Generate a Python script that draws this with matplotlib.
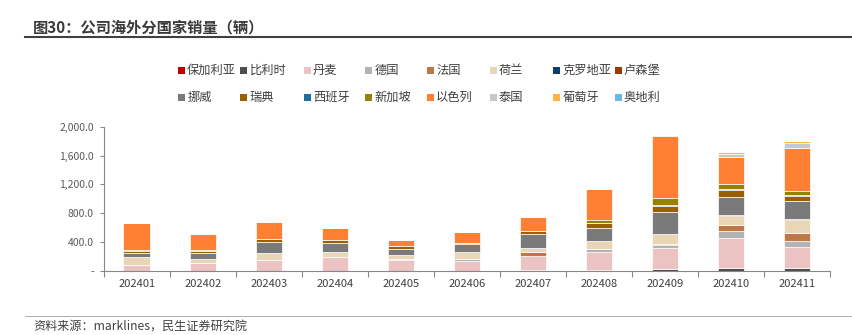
import numpy as np
import matplotlib
matplotlib.use("Agg")
import matplotlib.pyplot as plt
from matplotlib.patches import Rectangle
from matplotlib.lines import Line2D
from matplotlib.ticker import FuncFormatter

plt.rcParams['font.family'] = ['Noto Sans CJK SC', 'DejaVu Sans']

months = ["202401", "202402", "202403", "202404", "202405", "202406",
          "202407", "202408", "202409", "202410", "202411"]

countries = ["保加利亚", "比利时", "丹麦", "德国", "法国", "荷兰", "克罗地亚", "卢森堡",
             "挪威", "瑞典", "西班牙", "新加坡", "以色列", "泰国", "葡萄牙", "奥地利"]

bulgaria    = [0, 0, 0, 0, 0, 0, 0, 0, 0, 0, 0]
belgium     = [0, 0, 0, 0, 0, 0, 15, 18, 23, 42, 42]
denmark     = [80, 115, 152, 199, 152, 134, 194, 249, 296, 411, 296]
germany     = [0, 0, 0, 0, 8, 32, 0, 37, 37, 101, 83]
france      = [0, 0, 0, 0, 0, 0, 51, 0, 18, 79, 111]
netherlands = [111, 51, 92, 69, 65, 101, 65, 115, 134, 129, 176]
croatia     = [0, 0, 0, 0, 0, 0, 0, 0, 0, 0, 0]
luxembourg  = [0, 0, 0, 0, 0, 0, 0, 0, 0, 8, 6]
norway      = [65, 79, 162, 115, 83, 101, 190, 176, 314, 254, 263]
sweden      = [28, 37, 42, 51, 37, 23, 37, 74, 83, 92, 65]
spain       = [0, 0, 0, 0, 0, 0, 0, 0, 10, 18, 18]
singapore   = [5, 5, 0, 0, 0, 0, 0, 37, 92, 69, 42]
israel      = [370, 231, 236, 162, 79, 148, 203, 425, 860, 379, 605]
thailand    = [0, 0, 0, 0, 0, 0, 0, 0, 14, 46, 69]
portugal    = [0, 0, 0, 0, 0, 0, 0, 0, 10, 28, 23]
austria     = [0, 0, 0, 0, 0, 0, 0, 0, 0, 0, 0]

series = [bulgaria, belgium, denmark, germany, france, netherlands, croatia, luxembourg,
          norway, sweden, spain, singapore, israel, thailand, portugal, austria]

colors = ["#C00000", "#4D4D4D", "#EBC3C3", "#B3B3B3", "#BF7845", "#E8D6B4", "#0B3D6E", "#9C3800",
          "#7A7A7A", "#9C5F00", "#1F6E9C", "#968200", "#FF7F33", "#C8C8C8", "#FFB43C", "#6BB8E6"]

W, H = 853, 335
fig = plt.figure(figsize=(W / 100, H / 100), dpi=100)

# axes placement (pixel-based)
x0, x1 = 103.7, 829.7
y_top, y_bot = 126.7, 271.0
ax = fig.add_axes([x0 / W, 1 - y_bot / H, (x1 - x0) / W, (y_bot - y_top) / H])

x = np.arange(len(months))
bottom = np.zeros(len(months))
for vals, c, name in zip(series, colors, countries):
    v = np.array(vals, dtype=float)
    ax.bar(x, v, width=0.4, bottom=bottom, color=c, edgecolor="white",
           linewidth=0.5, label=name)
    bottom += v

ax.set_xlim(-0.5, len(months) - 0.5)
ax.set_ylim(0, 2000)
ax.set_yticks([0, 400, 800, 1200, 1600, 2000])
ax.yaxis.set_major_formatter(FuncFormatter(lambda v, p: "-" if v == 0 else f"{v:,.1f}"))

ax.set_xticks(x)
ax.set_xticklabels(months)
ax.set_xticks(np.arange(-0.5, len(months) + 0.5, 1), minor=True)
ax.tick_params(axis="x", which="major", length=0, pad=6, labelsize=8, labelcolor="#404040")
ax.tick_params(axis="x", which="minor", length=4, width=0.8, color="#888888", direction="out")
ax.tick_params(axis="y", which="major", length=3, width=0.8, color="#888888", direction="out",
               labelsize=7.5, labelcolor="#595959", pad=4)

for s in ["top", "right"]:
    ax.spines[s].set_visible(False)
for s in ["left", "bottom"]:
    ax.spines[s].set_color("#888888")
    ax.spines[s].set_linewidth(0.8)

# manual legend (2 rows x 8 cols, row-major)
col_x = [181.7, 244.0, 307.5, 368.7, 430.7, 493.3, 556.7, 618.3]
row_y = [70.5, 97.5]
sq = 7.0
for i, (name, c) in enumerate(zip(countries, colors)):
    r, k = divmod(i, 8)
    cx, cy = col_x[k], row_y[r]
    fig.add_artist(Rectangle(((cx - sq / 2) / W, 1 - (cy + sq / 2) / H), sq / W, sq / H,
                             transform=fig.transFigure, facecolor=c, edgecolor="none"))
    fig.text((cx + sq / 2 + 2) / W, 1 - cy / H, name, fontsize=8.8, color="#404040",
             ha="left", va="center")

# title and rules
fig.text(33 / W, 1 - 27.5 / H, "图30：公司海外分国家销量（辆）", fontsize=11, fontweight="bold",
         color="#3A3A3A", ha="left", va="center")
fig.add_artist(Line2D([25 / W, 1.0], [1 - 37.3 / H, 1 - 37.3 / H], transform=fig.transFigure,
                      color="#404040", linewidth=1.5))
fig.add_artist(Line2D([25 / W, 1.0], [1 - 316 / H, 1 - 316 / H], transform=fig.transFigure,
                      color="#A0A0A0", linewidth=0.6))
fig.text(33 / W, 1 - 327 / H, "资料来源：marklines，民生证券研究院", fontsize=8.7, color="#404040",
         ha="left", va="center")

fig.savefig("out.png", dpi=100)
